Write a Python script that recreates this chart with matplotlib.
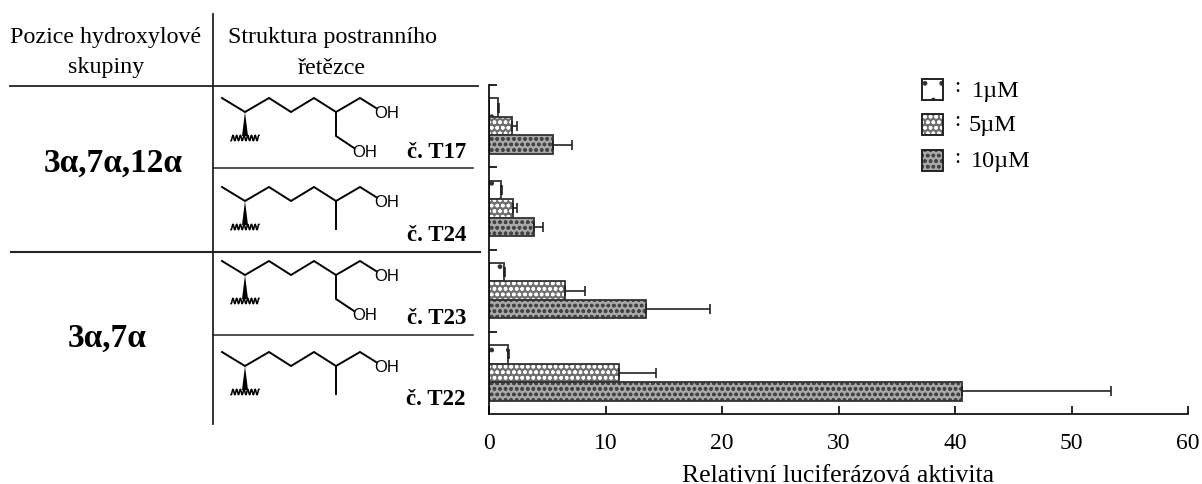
import numpy as np
import matplotlib
matplotlib.use("Agg")
import matplotlib.pyplot as plt
from matplotlib.patches import Rectangle, Polygon

plt.rcParams['font.family'] = ['Liberation Serif', 'DejaVu Serif']
plt.rcParams['hatch.linewidth'] = 1.0

compounds = ["č. T17", "č. T24", "č. T23", "č. T22"]
doses = ["1µM", "5µM", "10µM"]
low = [0.75, 1.0, 1.3, 1.6]
mid = [2.0, 2.1, 6.5, 11.2]
high = [5.5, 3.9, 13.5, 40.6]
low_top = [0.9, 1.1, 1.4, 1.7]
mid_top = [2.4, 2.4, 8.2, 14.3]
high_top = [7.1, 4.6, 19.0, 53.4]
xticks = [0, 10, 20, 30, 40, 50, 60]

W, H = 1202, 485
fig = plt.figure(figsize=(W / 100, H / 100), dpi=100)

# overlay in pixel coords for the table part
ov = fig.add_axes([0, 0, 1, 1])
ov.set_xlim(0, W)
ov.set_ylim(H, 0)
ov.axis('off')

ax = fig.add_axes([489 / W, 1 - 415 / H, (1188 - 489) / W, (415 - 86) / H])
ax.patch.set_alpha(0)

# face colour, hatch colour, hatch
styles = [
    ('white', '#333333', '.'),
    ('#707070', 'white', 'ooo'),
    ('#a8a8a8', '#444444', 'ooo'),
]
outline = '#333333'
ypos = np.arange(4) + 0.5
bar_h = 0.225
series = [(low, low_top), (mid, mid_top), (high, high_top)]
for i, (vals, tops) in enumerate(series):
    y = ypos + (i - 1) * bar_h
    face, hcol, hatch = styles[i]
    ax.barh(y, vals, height=bar_h, facecolor=face, hatch=hatch, edgecolor=hcol, linewidth=0)
    ax.barh(y, vals, height=bar_h, fill=False, edgecolor=outline, linewidth=1.3)
    vals = np.array(vals)
    tops = np.array(tops)
    ax.errorbar(vals, y, xerr=[np.zeros(4), tops - vals], fmt='none',
                ecolor='#222222', elinewidth=1.2, capsize=3.5, capthick=1.2)

ax.set_xlim(0, 60)
ax.set_ylim(4, 0)
ax.set_yticks([0, 1, 2, 3])
ax.set_yticklabels([])
ax.set_xticks(xticks)
ax.spines['top'].set_visible(False)
ax.spines['right'].set_visible(False)
ax.spines['left'].set_linewidth(1.2)
ax.spines['bottom'].set_linewidth(1.2)
ax.xaxis.set_tick_params(direction='in', length=6, width=1.2, labelsize=17, pad=13)
ax.yaxis.set_tick_params(direction='in', length=6, width=1.2)
ax.set_xlabel("Relativní luciferázová aktivita", fontsize=18.5, labelpad=8)

# table lines
lc = '#222222'
ov.plot([10, 478], [87, 87], color=lc, lw=1.3)
ov.plot([213, 473], [169, 169], color=lc, lw=1.1)
ov.plot([11, 480], [253, 253], color=lc, lw=1.5)
ov.plot([213, 473], [336, 336], color=lc, lw=1.1)
ov.plot([213, 213], [15, 425], color=lc, lw=1.3)

ov.text(106, 38, "Pozice hydroxylové", ha='center', va='center', fontsize=17.3)
ov.text(106, 68, "skupiny", ha='center', va='center', fontsize=17.3)
ov.text(332, 38, "Struktura postranního", ha='center', va='center', fontsize=17.3)
ov.text(332, 68, "řetězce", ha='center', va='center', fontsize=17.3)
ov.text(113, 163, "3α,7α,12α", ha='center', va='center', fontsize=24, fontweight='bold')
ov.text(107, 338, "3α,7α", ha='center', va='center', fontsize=24, fontweight='bold')


def side_chain(x0, y0, diol):
    xs = np.array([0, 23, 47, 69, 92, 114, 138, 154])
    ys = np.array([0, 14, 0, 14, 0, 14, 0, 10])
    ov.plot(x0 + xs, y0 + ys, color='k', lw=1.4, solid_joinstyle='miter')
    ov.add_patch(Polygon([(x0 + 23, y0 + 14), (x0 + 20, y0 + 38), (x0 + 26, y0 + 38)],
                         closed=True, color='k', lw=0))
    wx = np.linspace(-14, 14, 60)
    ov.plot(x0 + 23 + wx, y0 + 40 + 2.8 * np.sin(wx * 1.7), color='k', lw=1.1)
    ov.text(x0 + 165, y0 + 15, "OH", ha='center', va='center', fontsize=12,
            family='Liberation Sans')
    if diol:
        ov.plot(x0 + np.array([114, 114, 132]), y0 + np.array([14, 38, 50]), color='k', lw=1.4)
        ov.text(x0 + 143, y0 + 54, "OH", ha='center', va='center', fontsize=12,
                family='Liberation Sans')
    else:
        ov.plot(x0 + np.array([114, 114]), y0 + np.array([14, 42]), color='k', lw=1.4)


side_chain(222, 99, True)
side_chain(222, 188, False)
side_chain(222, 262, True)
side_chain(222, 353, False)

for name, ty in zip(compounds, [153, 236, 319, 400]):
    ov.text(466, ty, name, ha='right', va='center', fontsize=16.5, fontweight='bold')

# legend
for i, (label, ly, lx) in enumerate(zip(doses, [91, 125, 162], [972, 969, 971])):
    top = [80, 115, 151][i]
    face, hcol, hatch = styles[i]
    ov.add_patch(Rectangle((922, top), 21, 21, facecolor=face, hatch=hatch, edgecolor=hcol, linewidth=0))
    ov.add_patch(Rectangle((922, top), 21, 21, fill=False, edgecolor='#222222', linewidth=1.4))
    ov.text(957, ly - 3, ":", ha='center', va='center', fontsize=16)
    ov.text(lx, ly, label, ha='left', va='center', fontsize=17.5)

plt.savefig("out.png", dpi=100)
